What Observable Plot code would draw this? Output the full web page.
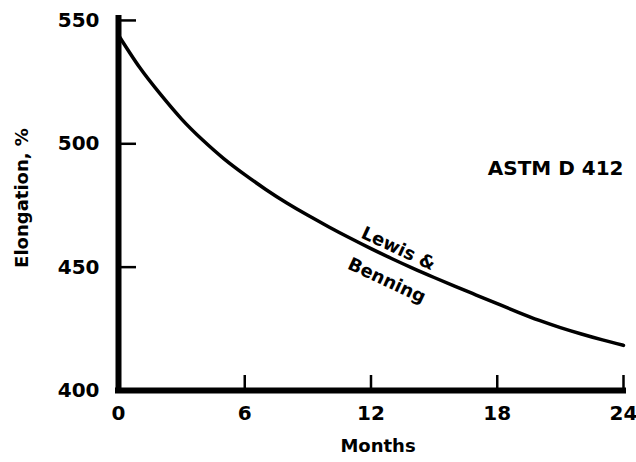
<!DOCTYPE html>
<html>
<head>
<meta charset="utf-8">
<script src="https://cdn.jsdelivr.net/npm/d3@7"></script>
<script src="https://cdn.jsdelivr.net/npm/@observablehq/plot@0.6"></script>
<style>
  html, body { margin: 0; padding: 0; background: #fff; }
</style>
</head>
<body>
<div id="chart"></div>
<script>
// Elongation at break (%) over outdoor ageing time (months)
const months = [0, 1, 2, 3, 4, 5, 6, 7, 8, 9, 10, 11, 12, 13, 14, 15, 16, 17, 18, 19, 20, 21, 22, 23, 24];
const elongation = [544, 531, 520, 510, 501.5, 494, 487.5, 481.5, 476, 471, 466.3, 461.8, 457.5, 453.4, 449.5, 445.8, 442.2, 438.7, 435.2, 431.7, 428.4, 425.5, 422.9, 420.5, 418.3];

const xTicks = [0, 6, 12, 18, 24];
const yTicks = [400, 450, 500, 550];

const xTitle = "Months";
const yTitle = "Elongation, %";
const testLabel = "ASTM D 412";
const curveLabel = ["Lewis &", "Benning"];

const rows = months.map((m, i) => ({month: m, elongation: elongation[i]}));

const chart = Plot.plot({
  width: 636,
  height: 462,
  marginLeft: 118,
  marginRight: 13,
  marginTop: 15,
  marginBottom: 72,
  x: {domain: [0, 24], axis: null},
  y: {domain: [400, 552], axis: null},
  style: {
    fontFamily: "'DejaVu Sans', sans-serif",
    fontWeight: "bold",
    fontSize: "20px",
    color: "#000",
    background: "#fff"
  },
  marks: [
    // inward-pointing ticks along the bottom
    Plot.axisX({ticks: xTicks, tickSize: 15, dy: -15, fill: "none", strokeWidth: 2.5, label: null}),
    // short ticks pointing right from the left axis (right-anchored ticks moved across the frame)
    Plot.axisY({ticks: yTicks, anchor: "right", tickSize: 17, dx: -505, fill: "none", strokeWidth: 2.5, label: null}),
    // tick labels
    Plot.axisX({ticks: xTicks, tickSize: 0, tickPadding: 15, label: null, fontSize: 20}),
    Plot.text(yTicks, {y: d => d, text: d => String(d), frameAnchor: "left", textAnchor: "end", dx: -19, fontSize: 20}),
    // heavy axis lines
    Plot.ruleX([0], {strokeWidth: 6}),
    Plot.ruleY([400], {strokeWidth: 6, strokeLinecap: "square"}),
    // the ageing curve
    Plot.line(rows, {x: "month", y: "elongation", strokeWidth: 3.5, curve: "natural"}),
    // annotations
    Plot.text([testLabel], {x: [24], y: [490], text: d => d, textAnchor: "end", fontSize: 20}),
    Plot.text([curveLabel[0]], {x: [13.3], y: [457.5], text: d => d, rotate: 25, fontSize: 18}),
    Plot.text([curveLabel[1]], {x: [12.75], y: [444.5], text: d => d, rotate: 25, fontSize: 18}),
    // axis titles
    Plot.text([xTitle], {frameAnchor: "bottom", textAnchor: "middle", lineAnchor: "middle", dy: 56, dx: 7, text: d => d, fontSize: 18}),
    Plot.text([yTitle], {frameAnchor: "left", textAnchor: "middle", lineAnchor: "middle", rotate: -90, dx: -96, dy: -5, text: d => d, fontSize: 18})
  ]
});

document.getElementById("chart").appendChild(chart);
</script>
</body>
</html>
